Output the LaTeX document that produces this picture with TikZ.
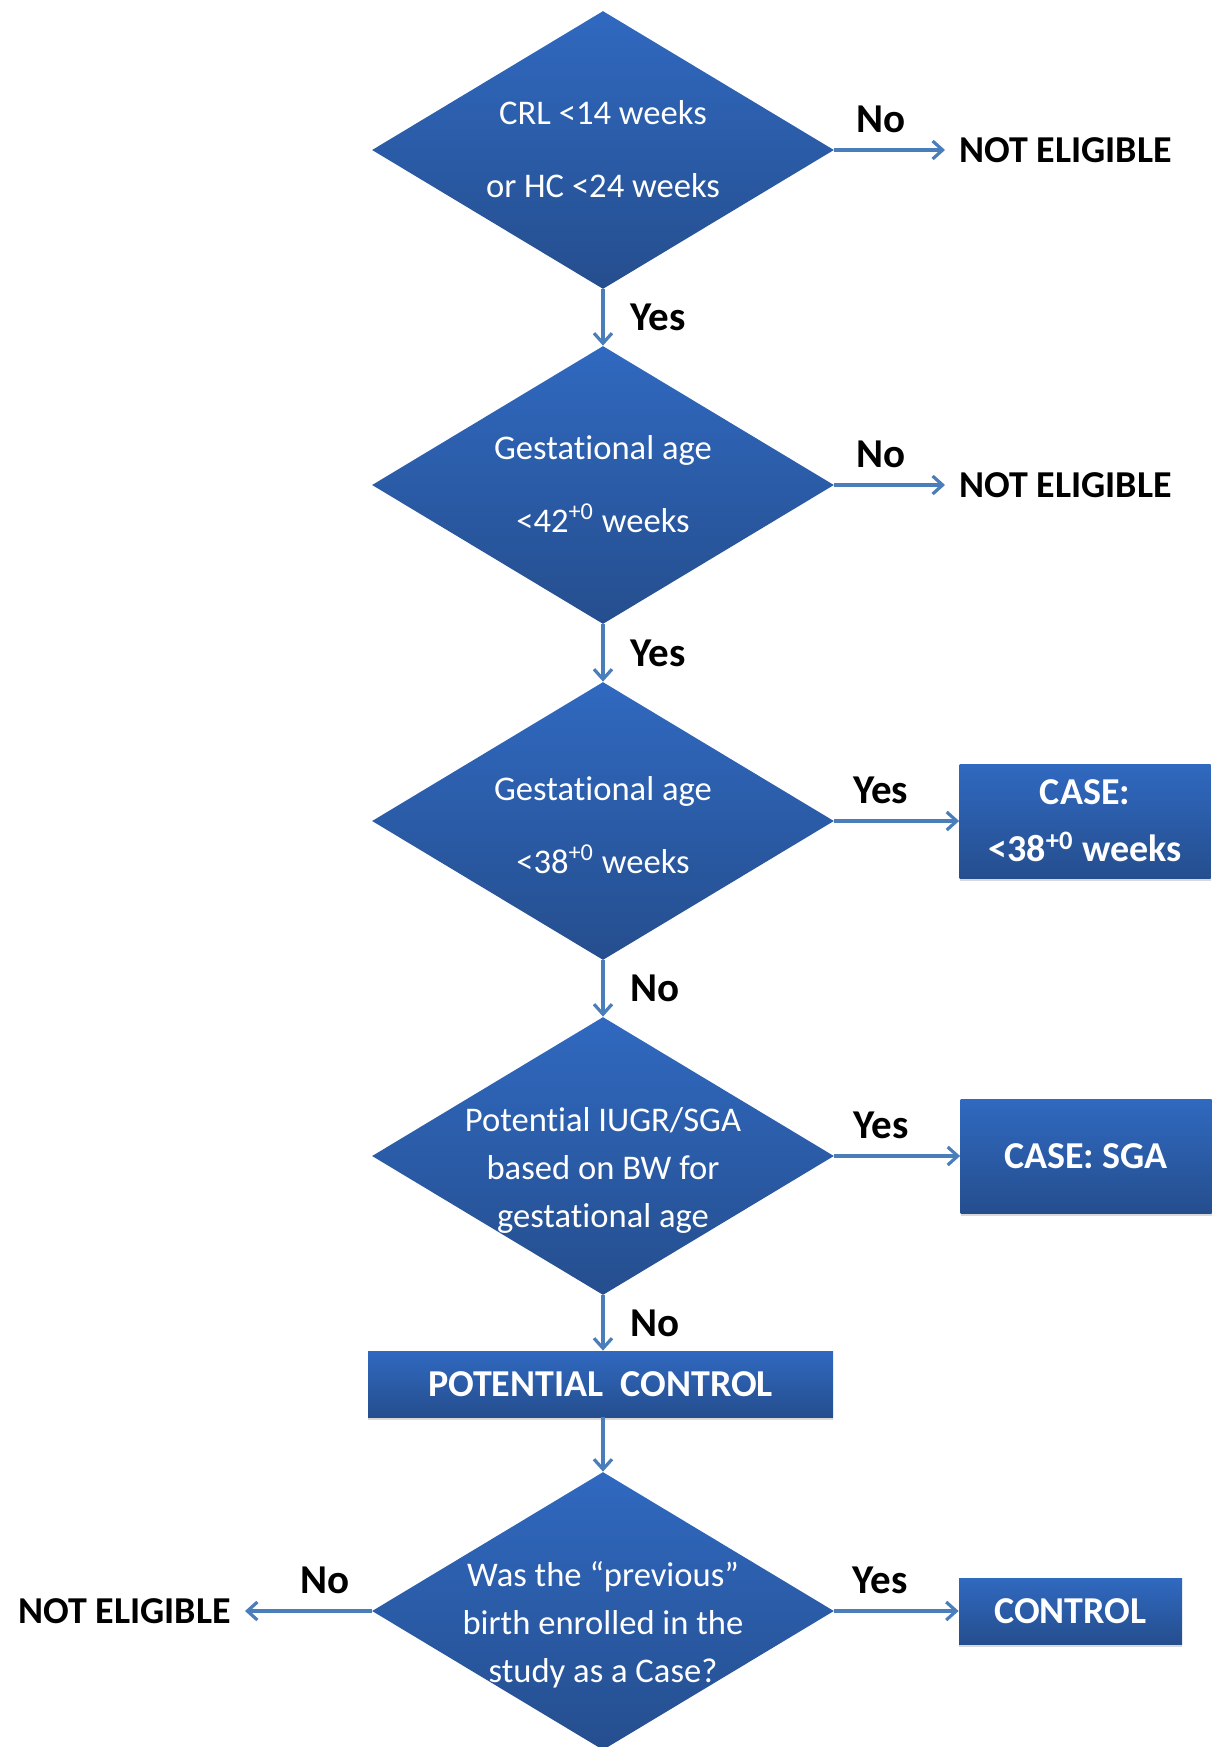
\documentclass[tikz,border=0pt]{standalone}
\usepackage{fontspec}
\setmainfont{Carlito}[Ligatures=NoCommon]
\usetikzlibrary{arrows.meta,shapes.geometric,shadows}
\definecolor{qtop}{RGB}{48,105,192}
\definecolor{qbot}{RGB}{37,78,142}
\definecolor{flowline}{RGB}{74,126,187}

\begin{document}
\begin{tikzpicture}[x=0.5pt,y=-0.5pt,
  decision/.style={diamond,minimum width=231pt,minimum height=139pt,inner sep=0pt,
    top color=qtop,bottom color=qbot},
  qtext/.style={text=white,align=center,inner sep=0pt,font=\fontsize{17.3}{24}\selectfont},
  qwide/.style={qtext,font=\fontsize{17.3}{36.5}\selectfont},
  result/.style={rectangle,top color=qtop,bottom color=qbot,text=white,align=center,
    inner sep=0pt,font=\bfseries\fontsize{19}{28.5}\selectfont,
    drop shadow={shadow xshift=0pt,shadow yshift=-1.5pt,opacity=0.3,fill=black!50}},
  flow/.style={draw=flowline,line width=1.6pt,-{Straight Barb[length=5pt,width=9pt]}},
  lbl/.style={font=\bfseries\fontsize{20.5}{24}\selectfont,inner sep=0pt},
  outcome/.style={font=\bfseries\fontsize{19}{24}\selectfont,inner ysep=0pt,inner xsep=7pt}]
\useasboundingbox (0,0) rectangle (1213,1747);
% decisions
\node[decision] (d1) at (603,150) {};
\node[qwide] (d1t) at (603,149) {CRL <14 weeks\\or HC <24 weeks};
\node[decision] (d2) at (603,485) {};
\node[qwide] (d2t) at (603,484) {Gestational age\\<42\textsuperscript{+0} weeks};
\node[decision] (d3) at (603,821) {};
\node[qwide] (d3t) at (603,825) {Gestational age\\<38\textsuperscript{+0} weeks};
\node[decision] (d4) at (603,1156) {};
\node[qtext] (d4t) at (603,1170) {Potential IUGR/SGA\\based on BW for\\gestational age};
\node[result,minimum width=232.5pt,minimum height=33pt] (pc) at (600.5,1384) {POTENTIAL\ \ CONTROL};
\node[decision] (d5) at (603,1611) {};
\node[qtext] (d5t) at (603,1625) {Was the “previous”\\birth enrolled in the\\study as a Case?};
% outcomes
\node[result,minimum width=125.5pt,minimum height=57pt] (case1) at (1085,821) {CASE:\\<38\textsuperscript{+0} weeks};
\node[result,minimum width=125.5pt,minimum height=57pt] (case2) at (1086,1156) {CASE: SGA};
\node[result,minimum width=111.5pt,minimum height=33pt] (ctrl) at (1070.5,1611) {CONTROL};
\node[outcome,anchor=west] (ne1) at (945,150) {NOT ELIGIBLE};
\node[outcome,anchor=west] (ne2) at (945,485) {NOT ELIGIBLE};
\node[outcome,anchor=east] (ne3) at (245,1611) {NOT ELIGIBLE};
% connectors
\draw[flow] (d1) -- node[lbl,above=8pt,pos=0.42]{No} (ne1);
\draw[flow] (d2) -- node[lbl,above=8pt,pos=0.42]{No} (ne2);
\draw[flow] (d3) -- node[lbl,above=8pt,pos=0.37]{Yes} (case1);
\draw[flow] (d4) -- node[lbl,above=8pt,pos=0.37]{Yes} (case2);
\draw[flow] (d5) -- node[lbl,above=8pt,pos=0.37]{Yes} (ctrl);
\draw[flow] (d5) -- node[lbl,above=8pt,pos=0.37]{No} (ne3);
\draw[flow] (d1) -- node[lbl,right=13pt]{Yes} (d2);
\draw[flow] (d2) -- node[lbl,right=13pt]{Yes} (d3);
\draw[flow] (d3) -- node[lbl,right=13pt]{No} (d4);
\draw[flow] (d4.south) -- node[lbl,right=13pt]{No} (pc.north -| d4.south);
\draw[flow] (pc.south -| d5.north) -- (d5.north);
\end{tikzpicture}
\end{document}
